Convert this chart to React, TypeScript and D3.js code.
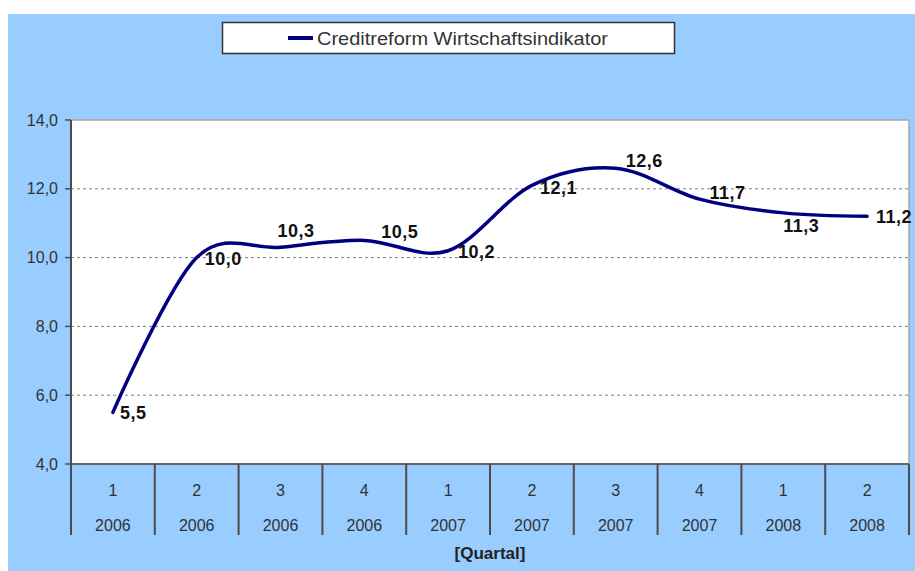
import React from "react";
import * as d3 from "d3";

const quarters = ["1", "2", "3", "4", "1", "2", "3", "4", "1", "2"];
const years = ["2006", "2006", "2006", "2006", "2007", "2007", "2007", "2007", "2008", "2008"];
const values = [5.5, 10.0, 10.3, 10.5, 10.2, 12.1, 12.6, 11.7, 11.3, 11.2];
const yTicks = [4, 6, 8, 10, 12, 14];
const seriesName = "Creditreform Wirtschaftsindikator";
const axisTitle = "[Quartal]";
// label offsets (dx to label start, dy to label middle), as placed in the reference
const labelOffsets: [number, number][] = [
  [7, 1], [8, 1], [-3, -16], [17, -8], [10, 1], [8, 3], [10, -7], [10, -6], [0, 13], [9, 1],
];

const W = 915;
const H = 571;
const left = 71;
const right = 909;
const top = 120;
const bottom = 464;
const catBottom = 535;

export default function App() {
  const keys = values.map((_, i) => String(i));
  const x = d3.scaleBand<string>().domain(keys).range([left, right]).padding(0);
  const y = d3.scaleLinear().domain([4, 14]).range([bottom, top]);
  const fmt = (v: number) => d3.format(".1f")(v).replace(".", ",");
  const cx = (i: number) => (x(String(i)) as number) + x.bandwidth() / 2;

  const line = d3
    .line<number>()
    .x((_, i) => cx(i))
    .y((d) => y(d))
    .curve(d3.curveCatmullRom.alpha(0));

  const boundaries = keys.map((k) => x(k) as number).concat([right]);

  return (
    <svg
      width={W}
      height={H}
      style={{ position: "absolute", left: 0, top: 0, fontFamily: "'Liberation Sans', Arial, sans-serif" }}
    >
      <rect x={0} y={0} width={W} height={H} fill="#ffffff" />
      <rect x={8} y={14} width={W - 8} height={H - 14} fill="#99ccff" />

      {/* legend */}
      <rect x={222.5} y={22.5} width={452} height={31} fill="#ffffff" stroke="#333333" strokeWidth={1.5} />
      <line x1={288} x2={313} y1={38} y2={38} stroke="#000080" strokeWidth={4} />
      <text x={317} y={38} dominantBaseline="central" fontSize={19} fill="#333333" textLength={291} lengthAdjust="spacingAndGlyphs">
        {seriesName}
      </text>

      {/* plot area */}
      <rect x={left} y={top} width={right - left} height={bottom - top} fill="#ffffff" stroke="#a6a6a6" strokeWidth={1.5} />
      {yTicks
        .filter((t) => t > 4 && t < 14)
        .map((t) => (
          <line key={"g" + t} x1={left} x2={right} y1={y(t)} y2={y(t)} stroke="#7f7f7f" strokeWidth={1} strokeDasharray="3,3" />
        ))}

      {/* y axis */}
      <line x1={left} x2={left} y1={top} y2={catBottom} stroke="#4d4d4d" strokeWidth={2} />
      {yTicks.map((t) => (
        <g key={"t" + t}>
          <line x1={left - 6} x2={left} y1={y(t)} y2={y(t)} stroke="#4d4d4d" strokeWidth={1.5} />
          <text x={58} y={y(t)} textAnchor="end" dominantBaseline="central" fontSize={16} fill="#333333">
            {fmt(t)}
          </text>
        </g>
      ))}

      {/* x axis */}
      <line x1={left} x2={right} y1={bottom} y2={bottom} stroke="#4d4d4d" strokeWidth={1.5} />
      {boundaries.map((b, i) => (
        <line key={"b" + i} x1={b} x2={b} y1={bottom} y2={catBottom} stroke="#4d4d4d" strokeWidth={2} />
      ))}
      {quarters.map((q, i) => (
        <text key={"q" + i} x={cx(i)} y={490} textAnchor="middle" dominantBaseline="central" fontSize={16} fill="#333333">
          {q}
        </text>
      ))}
      {years.map((yr, i) => (
        <text key={"y" + i} x={cx(i)} y={525} textAnchor="middle" dominantBaseline="central" fontSize={16} fill="#333333">
          {yr}
        </text>
      ))}
      <text x={490} y={553} textAnchor="middle" dominantBaseline="central" fontSize={17} fontWeight="bold" fill="#222222">
        {axisTitle}
      </text>

      {/* series */}
      <path d={line(values) || ""} fill="none" stroke="#000080" strokeWidth={3.5} strokeLinecap="round" strokeLinejoin="round" />
      {values.map((v, i) => (
        <text
          key={"l" + i}
          x={cx(i) + labelOffsets[i][0]}
          y={y(v) + labelOffsets[i][1]}
          dominantBaseline="central"
          fontSize={18}
          fontWeight="bold"
          fill="#111111"
          letterSpacing={0.5}
        >
          {fmt(v)}
        </text>
      ))}
    </svg>
  );
}
